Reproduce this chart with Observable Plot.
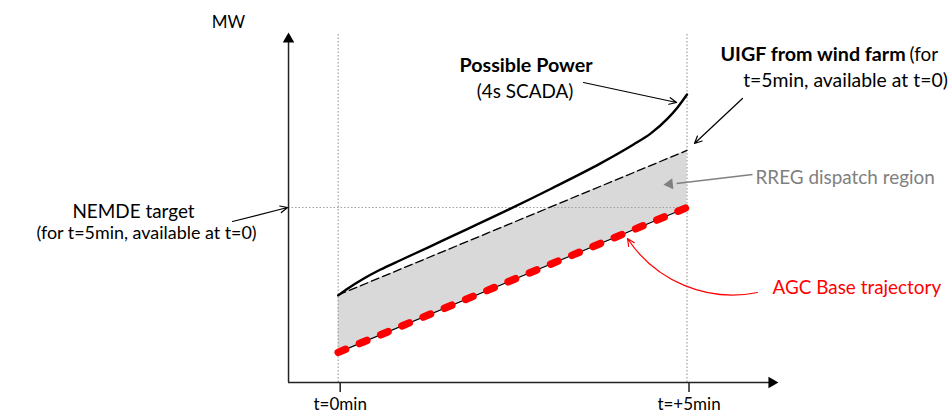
<!DOCTYPE html>
<html><head><meta charset="utf-8">
<script src="https://cdn.jsdelivr.net/npm/d3@7"></script>
<script src="https://cdn.jsdelivr.net/npm/@observablehq/plot@0.6"></script>
<style>body{margin:0;background:#fff;} svg{display:block;}</style>
</head><body><div id="chart"></div>
<script>
// ---- data (t in minutes, power in arbitrary MW units) ----
const times = [0, 5];
const agcBase = [8.6, 50.0];
const uigf = [25.0, 66.3];
const nemdeTarget = 50.0;
const ppTime = [0, 0.15, 0.35, 0.6, 0.9, 1.3, 1.61, 2.327, 3.044, 3.76, 4.233, 4.477, 4.721, 4.864, 5.0];
const ppMW = [24.9, 27.0, 29.5, 32.2, 35.0, 38.7, 41.6, 48.3, 55.3, 62.6, 68.0, 71.1, 75.4, 78.6, 82.3];
const tickValues = [0, 5];
const tickLabels = ["t=0min", "t=+5min"];

const axisXStart = -0.712, axisXEnd = 6.31, axisYTop = 100;

const bands = times.map((t, i) => ({t, agc: agcBase[i], uigf: uigf[i]}));
const pp = ppTime.map((t, i) => ({t, v: ppMW[i]}));

const dotted = {stroke: "#a0a0a0", strokeWidth: 1.2, strokeDasharray: "1.5,2"};
const txt = {fontSize: 18.9, lineAnchor: "middle"};
const bold = {fontSize: 19.7, lineAnchor: "middle", fontWeight: "bold"};

const plot = Plot.plot({
  width: 950, height: 414,
  marginTop: 32, marginBottom: 32, marginLeft: 0, marginRight: 0,
  x: {domain: [0, 5], range: [337.7, 686.5], axis: null},
  y: {domain: [0, 100], range: [382, 32], axis: null},
  style: {fontFamily: "Lato, sans-serif", background: "white", overflow: "visible", color: "black"},
  marks: [
    Plot.areaY(bands, {x: "t", y1: "agc", y2: "uigf", fill: "#d9d9d9"}),
    Plot.ruleX(tickValues, {y1: 0, y2: 99.6, ...dotted}),
    Plot.ruleY([nemdeTarget], {x1: axisXStart, x2: 5, ...dotted}),
    Plot.line(bands, {x: "t", y: "uigf", stroke: "black", strokeWidth: 1.3, strokeDasharray: "8,4"}),
    Plot.line(bands, {x: "t", y: "agc", stroke: "black", strokeWidth: 1.2}),
    Plot.line(bands, {x: "t", y: "agc", stroke: "#ff0000", strokeWidth: 7.5, strokeDasharray: "8,15", strokeLinecap: "round"}),
    Plot.line(pp, {x: "t", y: "v", curve: "monotone-x", stroke: "black", strokeWidth: 2.4}),
    // axes
    Plot.ruleY([0], {x1: axisXStart, x2: axisXEnd - 0.1, stroke: "#222", strokeWidth: 1.5}),
    Plot.ruleX([axisXStart], {y1: 0, y2: axisYTop - 2, stroke: "#222", strokeWidth: 1.5}),
    Plot.dot([{x: axisXEnd, y: 0}], {x: "x", y: "y", symbol: "triangle2", r: 5.5, rotate: 90, dx: -6.6, fill: "black", stroke: "none"}),
    Plot.dot([{x: axisXStart, y: axisYTop}], {x: "x", y: "y", symbol: "triangle2", r: 5.5, dy: 6.6, fill: "black", stroke: "none"}),
    Plot.axisX(tickValues, {tickSize: 10, tickPadding: 5, fontSize: 17, dx: 2, tickFormat: d => tickLabels[tickValues.indexOf(d)], label: null, stroke: "#222", strokeWidth: 1.5}),
    // annotations
    Plot.text(["MW"], {x: -1.574, y: 102.9, lineAnchor: "middle", fontSize: 17}),
    Plot.text(["Possible Power"], {x: 2.692, y: 90.57, ...bold}),
    Plot.text(["(4s SCADA)"], {x: 2.678, y: 83.14, ...txt}),
    Plot.text(["UIGF from wind farm"], {x: 5.48, y: 93.71, ...bold, textAnchor: "start"}),
    Plot.text(["(for"], {x: 8.19, y: 93.71, ...txt, textAnchor: "start"}),
    Plot.text(["t=5min, available at t=0)"], {x: 7.272, y: 86.29, ...txt, fontSize: 19.4}),
    Plot.text(["RREG dispatch region"], {x: 5.982, y: 58.57, ...txt, textAnchor: "start", fill: "#808080"}),
    Plot.text(["NEMDE target"], {x: -2.934, y: 48.86, ...txt}),
    Plot.text(["(for t=5min, available at t=0)"], {x: -2.747, y: 42.57, ...txt, fontSize: 17.9}),
    Plot.text(["AGC Base trajectory"], {x: 6.226, y: 27.14, ...txt, textAnchor: "start", fill: "#ff0000"}),
    // arrows
    Plot.arrow([{x1: 3.516, y1: 85.71, x2: 4.851, y2: 80.0}], {x1: "x1", y1: "y1", x2: "x2", y2: "y2", stroke: "black", strokeWidth: 1.2, headLength: 10, headAngle: 50}),
    Plot.arrow([{x1: 5.795, y1: 81.14, x2: 5.107, y2: 68.29}], {x1: "x1", y1: "y1", x2: "x2", y2: "y2", stroke: "black", strokeWidth: 1.2, headLength: 10, headAngle: 50}),
    Plot.arrow([{x1: -1.515, y1: 46.0, x2: -0.726, y2: 50.0}], {x1: "x1", y1: "y1", x2: "x2", y2: "y2", stroke: "black", strokeWidth: 1.2, headLength: 10, headAngle: 50}),
    Plot.arrow([{x1: 6.011, y1: 25.71, x2: 4.147, y2: 41.14}], {x1: "x1", y1: "y1", x2: "x2", y2: "y2", stroke: "#ff0000", strokeWidth: 1.2, headLength: 10, headAngle: 50, bend: 34}),
    Plot.link([{x1: 5.939, y1: 59.43, x2: 4.85, y2: 56.86}], {x1: "x1", y1: "y1", x2: "x2", y2: "y2", stroke: "#808080", strokeWidth: 1.5}),
    Plot.dot([{x: 4.663, y: 56.86}], {x: "x", y: "y", symbol: "triangle2", r: 5.2, rotate: -96, dx: 6.2, dy: 0.6, fill: "#808080", stroke: "none"})
  ]
});
document.getElementById("chart").append(plot);
</script>
</body></html>
